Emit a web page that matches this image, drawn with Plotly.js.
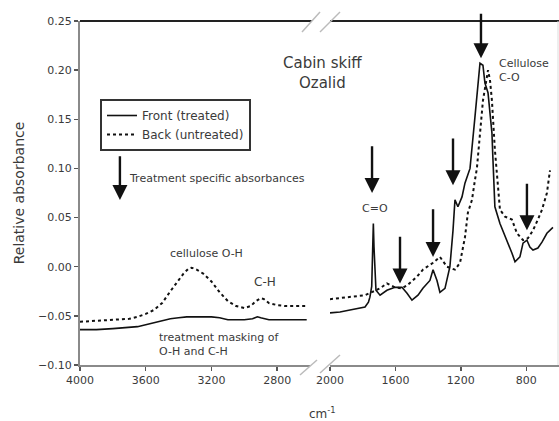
<!DOCTYPE html>
<html>
<head>
<meta charset="utf-8">
<script src="https://cdn.plot.ly/plotly-3.0.1.min.js"></script>
<style>
  html, body { margin: 0; padding: 0; background: #fff; }
  #chart { width: 559px; height: 421px; }
</style>
</head>
<body>
<div id="chart"></div>
<script>
// ---------- data (wavenumber cm-1, relative absorbance) ----------
// High-wavenumber region (left panel)
const frontHighWn = [4000, 3900, 3800, 3700, 3650, 3600, 3550, 3500, 3450, 3400, 3350, 3300, 3250, 3200, 3150, 3100, 3050, 3000, 2950, 2920, 2900, 2870, 2850, 2800, 2750, 2700, 2620];
const frontHighAbs = [-0.064, -0.064, -0.063, -0.062, -0.061, -0.059, -0.057, -0.055, -0.053, -0.052, -0.051, -0.051, -0.051, -0.051, -0.052, -0.054, -0.054, -0.054, -0.053, -0.051, -0.052, -0.053, -0.054, -0.054, -0.054, -0.054, -0.054];

const backHighWn = [4000, 3900, 3800, 3700, 3650, 3600, 3550, 3500, 3450, 3400, 3370, 3340, 3320, 3290, 3250, 3200, 3150, 3100, 3050, 3000, 2960, 2930, 2900, 2880, 2850, 2800, 2750, 2700, 2620];
const backHighAbs = [-0.056, -0.055, -0.054, -0.053, -0.051, -0.048, -0.044, -0.037, -0.025, -0.014, -0.007, -0.002, -0.001, -0.003, -0.007, -0.015, -0.026, -0.035, -0.040, -0.042, -0.040, -0.035, -0.032, -0.033, -0.037, -0.039, -0.040, -0.040, -0.040];

// Fingerprint region (right panel)
const frontLowWn = [2000, 1939, 1878, 1820, 1786, 1765, 1756, 1745, 1738, 1735, 1731, 1725, 1719, 1694, 1652, 1603, 1560, 1529, 1499, 1462, 1432, 1389, 1370, 1346, 1328, 1297, 1267, 1248, 1236, 1218, 1193, 1175, 1144, 1114, 1095, 1083, 1065, 1053, 1034, 1022, 1010, 1004, 998, 992, 961, 918, 888, 869, 839, 820, 796, 778, 759, 729, 704, 674, 643, 637];
const frontLowAbs = [-0.047, -0.046, -0.044, -0.042, -0.041, -0.036, -0.031, -0.020, 0.030, 0.044, 0.020, -0.015, -0.024, -0.029, -0.024, -0.021, -0.021, -0.027, -0.034, -0.029, -0.022, -0.014, -0.003, -0.014, -0.026, -0.022, 0.000, 0.037, 0.068, 0.061, 0.071, 0.085, 0.100, 0.152, 0.190, 0.207, 0.205, 0.187, 0.177, 0.159, 0.136, 0.110, 0.085, 0.061, 0.044, 0.027, 0.014, 0.005, 0.010, 0.024, 0.027, 0.020, 0.017, 0.019, 0.025, 0.034, 0.040, 0.040];

const backLowWn = [2000, 1939, 1878, 1786, 1719, 1694, 1652, 1603, 1560, 1529, 1468, 1432, 1370, 1328, 1285, 1236, 1205, 1175, 1157, 1132, 1114, 1102, 1065, 1034, 1022, 1010, 992, 979, 961, 930, 888, 857, 820, 790, 759, 729, 704, 674, 655];
const backLowAbs = [-0.033, -0.032, -0.031, -0.029, -0.024, -0.022, -0.017, -0.021, -0.022, -0.019, -0.010, -0.003, 0.004, 0.010, 0.000, -0.003, 0.004, 0.030, 0.055, 0.068, 0.088, 0.100, 0.169, 0.200, 0.190, 0.169, 0.119, 0.093, 0.058, 0.051, 0.048, 0.034, 0.027, 0.029, 0.037, 0.048, 0.058, 0.075, 0.098];

const seriesNames = ["Front (treated)", "Back (untreated)"];
const yTicks = [-0.10, -0.05, 0.00, 0.05, 0.10, 0.15, 0.20, 0.25];
const xTicksHigh = [4000, 3600, 3200, 2800];
const xTicksLow = [2000, 1600, 1200, 800];

// arrows: [wavenumber of tip, absorbance at tip, absorbance at tail]
const bandArrowsWn = [1743, 1572, 1370, 1248, 1077, 796];
const bandArrowsTip = [0.075, -0.017, 0.010, 0.083, 0.212, 0.037];
const bandArrowsTail = [0.124, 0.032, 0.060, 0.132, 0.259, 0.086];

// ---------- styling ----------
const FONT = "DejaVu Sans, Verdana, sans-serif";
const TXT = "#3a3a3a";

const traces = [
  { x: frontHighWn, y: frontHighAbs, xaxis: "x", yaxis: "y", mode: "lines", name: seriesNames[0],
    line: { color: "#111", width: 1.6 }, legendgroup: "f", showlegend: true },
  { x: backHighWn, y: backHighAbs, xaxis: "x", yaxis: "y", mode: "lines", name: seriesNames[1],
    line: { color: "#111", width: 2, dash: "dot" }, legendgroup: "b", showlegend: true },
  { x: frontLowWn, y: frontLowAbs, xaxis: "x2", yaxis: "y", mode: "lines", name: seriesNames[0],
    line: { color: "#111", width: 1.6 }, legendgroup: "f", showlegend: false },
  { x: backLowWn, y: backLowAbs, xaxis: "x2", yaxis: "y", mode: "lines", name: seriesNames[1],
    line: { color: "#111", width: 2, dash: "dot" }, legendgroup: "b", showlegend: false }
];

// pixel helpers for decorative items (plot area: x 80..559, y 21..365)
const px = v => (v - 80) / 479;
const py = v => (365 - v) / 344;

const annotations = [];
bandArrowsWn.forEach((w, i) => {
  annotations.push({ x: w, y: bandArrowsTip[i], ax: w, ay: bandArrowsTail[i], xref: "x2", yref: "y",
    axref: "x2", ayref: "y", showarrow: true, arrowhead: 2, arrowsize: 1.25, arrowwidth: 2.4,
    arrowcolor: "#111", text: "" });
});
annotations.push({ x: 3757, y: 0.068, ax: 3757, ay: 0.114, xref: "x", yref: "y", axref: "x", ayref: "y",
  showarrow: true, arrowhead: 2, arrowsize: 1.25, arrowwidth: 2.4, arrowcolor: "#111", text: "" });

const txt = (text, x, y, opts) => Object.assign({
  text: text, x: x, y: y, xref: "paper", yref: "paper", showarrow: false,
  font: { family: FONT, size: 11, color: TXT }, xanchor: "center", yanchor: "middle"
}, opts || {});

annotations.push(txt("Treatment specific absorbances", px(127), py(178), { xanchor: "left" }));
annotations.push(txt("Cabin skiff<br>Ozalid", px(322), py(73), { font: { family: FONT, size: 15, color: TXT } }));
annotations.push(txt("cellulose O-H", px(206), py(253)));
annotations.push(txt("C-H", px(265), py(282), { font: { family: FONT, size: 12, color: TXT } }));
annotations.push(txt("treatment masking of<br>O-H and C-H", px(157), py(344), { xanchor: "left", align: "left" }));
annotations.push(txt("C=O", px(375), py(208)));
annotations.push(txt("Cellulose<br>C-O", px(497), py(70), { xanchor: "left", align: "left" }));
annotations.push(txt("cm<sup>-1</sup>", px(322), py(413), { font: { family: FONT, size: 12, color: TXT } }));

const slash = (x0, y0, x1, y1) => ({ type: "line", xref: "paper", yref: "paper",
  x0: px(x0), y0: py(y0), x1: px(x1), y1: py(y1), line: { color: "#bbb", width: 1.5 } });

const shapes = [
  { type: "line", xref: "x domain", yref: "paper", x0: 0, x1: 1.008, y0: 1, y1: 1, line: { color: "#222", width: 2 } },
  { type: "line", xref: "x2 domain", yref: "paper", x0: 0, x1: 1, y0: 1, y1: 1, line: { color: "#222", width: 2 } },
  { type: "line", xref: "paper", yref: "paper", x0: px(558), x1: px(558), y0: 0, y1: 1, line: { color: "#ddd", width: 1 } },
  slash(302, 32, 320, 12), slash(320, 32, 340, 12),
  slash(300, 375, 317, 360), slash(320, 373, 340, 355)
];

const axisCommon = {
  showgrid: false, zeroline: false, showline: true, linecolor: "#8a8a8a", linewidth: 2,
  ticks: "outside", ticklen: 4, tickwidth: 1.5, tickcolor: "#555",
  tickfont: { family: FONT, size: 11, color: TXT }
};

const layout = {
  width: 559, height: 421,
  margin: { l: 80, r: 0, t: 21, b: 56 },
  paper_bgcolor: "#fff", plot_bgcolor: "#fff",
  showlegend: true,
  legend: {
    x: px(100), y: py(99), xanchor: "left", yanchor: "top",
    bordercolor: "#333", borderwidth: 2, bgcolor: "#fff",
    font: { family: FONT, size: 12, color: TXT }, itemwidth: 30, tracegroupgap: 0
  },
  xaxis: Object.assign({}, axisCommon, {
    domain: [0, px(310)], range: [4000, 2600], tickvals: xTicksHigh, ticktext: xTicksHigh.map(String)
  }),
  xaxis2: Object.assign({}, axisCommon, {
    domain: [px(330), 1], range: [2000, 600], anchor: "y", tickvals: xTicksLow, ticktext: xTicksLow.map(String)
  }),
  yaxis: Object.assign({}, axisCommon, {
    range: [-0.10, 0.25], tickvals: yTicks, tickformat: ".2f",
    title: { text: "Relative absorbance", font: { family: FONT, size: 14, color: TXT }, standoff: 10 }
  }),
  annotations: annotations,
  shapes: shapes
};

Plotly.newPlot("chart", traces, layout, { staticPlot: true, displayModeBar: false });
</script>
</body>
</html>
